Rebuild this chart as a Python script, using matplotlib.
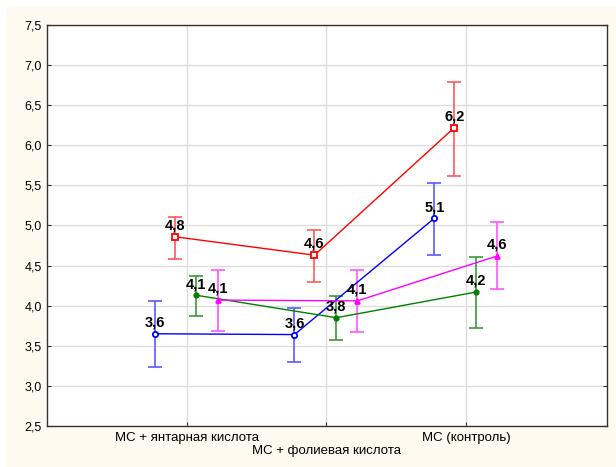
import matplotlib
matplotlib.use('Agg')
import matplotlib.pyplot as plt
from matplotlib.patches import Rectangle
from matplotlib.ticker import FuncFormatter

plt.rcParams['font.family'] = ['Liberation Sans', 'DejaVu Sans']

categories = ['МС + янтарная кислота', '\nМС + фолиевая кислота', 'МС (контроль)']

# series values, lower/upper error bar ends, point labels
blue_vals = [3.65, 3.64, 5.09]
blue_lo = [3.23, 3.30, 4.63]
blue_hi = [4.06, 3.97, 5.53]
blue_lbl = ['3,6', '3,6', '5,1']

red_vals = [4.86, 4.63, 6.22]
red_lo = [4.58, 4.30, 5.62]
red_hi = [5.10, 4.95, 6.79]
red_lbl = ['4,8', '4,6', '6,2']

green_vals = [4.13, 3.85, 4.17]
green_lo = [3.87, 3.57, 3.72]
green_hi = [4.37, 4.12, 4.61]
green_lbl = ['4,1', '3,8', '4,2']

magenta_vals = [4.07, 4.06, 4.62]
magenta_lo = [3.69, 3.67, 4.21]
magenta_hi = [4.45, 4.45, 5.04]
magenta_lbl = ['4,1', '4,1', '4,6']

series = [
    (blue_vals, blue_lo, blue_hi, blue_lbl, -0.228, '#0000ff', '#5a5aff', 'o', 'white', 3.8),
    (red_vals, red_lo, red_hi, red_lbl, -0.085, '#ff0000', '#ff5a5a', 's', 'white', 3.8),
    (green_vals, green_lo, green_hi, green_lbl, 0.07, '#008000', '#3a9a3a', 'o', '#008000', 3.2),
    (magenta_vals, magenta_lo, magenta_hi, magenta_lbl, 0.222, '#ff00ff', '#ff55ff', '^', '#ff00ff', 3.5),
]

fig = plt.figure(figsize=(6.16, 4.67), dpi=100, facecolor='white')
fig.patches.append(Rectangle((6 / 616, 0), 1, 1 - 7 / 467, transform=fig.transFigure,
                             facecolor='#fffaf0', edgecolor='none', zorder=-10))
ax = fig.add_axes([0.0758, 0.0878, 0.9103, 0.8587])
ax.set_facecolor('white')

pos = [1, 2, 3]
for vals, lo, hi, lbl, off, col, ecol, mk, fc, ms in series:
    x = [p + off for p in pos]
    yerr = [[v - l for v, l in zip(vals, lo)], [h - v for v, h in zip(vals, hi)]]
    ax.errorbar(x, vals, yerr=yerr, fmt='none', ecolor=ecol, elinewidth=1.2,
                capsize=5, capthick=1.2, zorder=3)
    ax.plot(x, vals, color=col, lw=1, marker=mk, ms=ms, mfc=fc, mec=col, mew=1.3, zorder=4)
    for xi, v, t in zip(x, vals, lbl):
        ax.annotate(t, (xi, v), xytext=(0, 3), textcoords='offset points',
                    ha='center', va='bottom', fontsize=10.5, fontweight='bold', zorder=5)

ax.set_xlim(0, 4.01)
ax.set_ylim(2.5, 7.5)
ax.set_xticks(pos)
ax.set_xticklabels(categories, fontsize=9.5)
ax.set_yticks([2.5 + 0.5 * i for i in range(11)])
ax.yaxis.set_major_formatter(FuncFormatter(lambda v, p: f'{v:.1f}'.replace('.', ',')))
ax.tick_params(axis='y', labelsize=9, direction='in', length=3, right=True, color='#333333')
ax.tick_params(axis='x', direction='in', length=3, color='#333333', pad=4)
ax.grid(True, color='#dddddd', lw=1)
ax.set_axisbelow(True)
for s in ax.spines.values():
    s.set_color('#333333')
    s.set_linewidth(1)

fig.savefig('out.png', dpi=100, facecolor=fig.get_facecolor())
